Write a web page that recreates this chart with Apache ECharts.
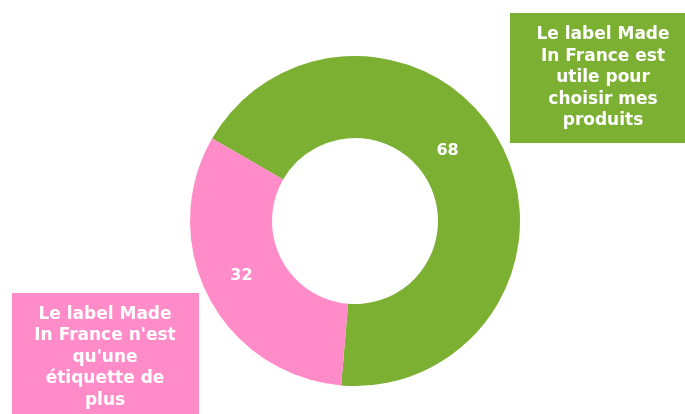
<!DOCTYPE html>
<html>
<head>
<meta charset="utf-8">
<script src="https://cdn.jsdelivr.net/npm/echarts@6/dist/echarts.min.js"></script>
<style>
html,body{margin:0;padding:0;background:#fff;}
#chart{width:685px;height:414px;}
</style>
</head>
<body>
<div id="chart"></div>
<script>
// données
var categories = ["Le label Made\nIn France est\nutile pour\nchoisir mes\nproduits", "Le label Made\nIn France n'est\nqu'une\nétiquette de\nplus"];
var values = [68, 32];
var colors = ['#7cb033', '#ff8cc8'];

var chart = echarts.init(document.getElementById('chart'));
var font = 'DejaVu Sans';
var labelOffsets = [[-20, -11], [-1, -4]];

var option = {
    animation: false,
    series: [{
        type: 'pie',
        center: [355, 221],
        radius: [83, 165],
        startAngle: 150,
        clockwise: true,
        silent: true,
        label: {
            position: 'inside',
            color: '#fff',
            fontFamily: font,
            fontWeight: 'bold',
            fontSize: 16,
            formatter: '{c}'
        },
        labelLine: {show: false},
        data: values.map(function (v, i) {
            return {value: v, name: categories[i], itemStyle: {color: colors[i]},
                label: {offset: labelOffsets[i]}};
        })
    }],
    // boites de légende
    graphic: [
        {
            type: 'group', left: 510, top: 13,
            children: [
                {type: 'rect', shape: {x: 0, y: 0, width: 175, height: 130}, style: {fill: colors[0]}},
                {type: 'text', x: 93, y: 65, style: {
                    text: categories[0], fill: '#fff', fontFamily: font, fontWeight: 'bold', fontSize: 17,
                    align: 'center', verticalAlign: 'middle', lineHeight: 21.5
                }}
            ]
        },
        {
            type: 'group', left: 12, top: 293,
            children: [
                {type: 'rect', shape: {x: 0, y: 0, width: 187, height: 121}, style: {fill: colors[1]}},
                {type: 'text', x: 93, y: 64.5, style: {
                    text: categories[1], fill: '#fff', fontFamily: font, fontWeight: 'bold', fontSize: 17,
                    align: 'center', verticalAlign: 'middle', lineHeight: 21.5
                }}
            ]
        }
    ]
};
chart.setOption(option);
</script>
</body>
</html>
